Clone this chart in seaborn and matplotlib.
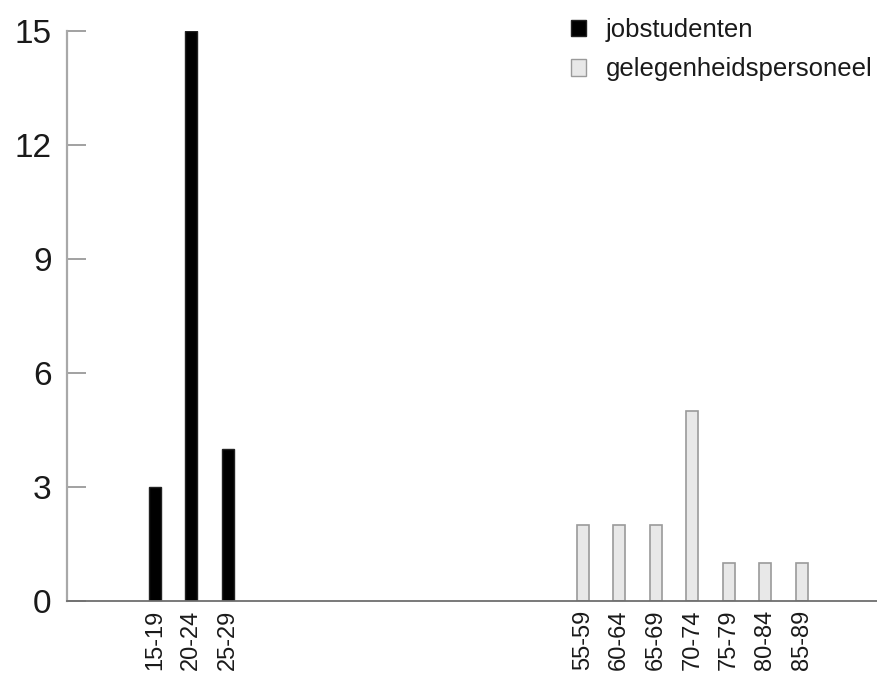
import numpy as np
import pandas as pd
import matplotlib
matplotlib.use("Agg")
import matplotlib.pyplot as plt
from matplotlib.patches import Patch
import seaborn as sns

# leeftijdsklassen en aantallen per groep
leeftijd_jobstudenten = ["15-19", "20-24", "25-29"]
aantal_jobstudenten = [3, 15, 4]

leeftijd_gelegenheid = ["55-59", "60-64", "65-69", "70-74", "75-79", "80-84", "85-89"]
aantal_gelegenheid = [2, 2, 2, 5, 1, 1, 1]

groepen = ["jobstudenten", "gelegenheidspersoneel"]
yticks = [0, 3, 6, 9, 12, 15]

sns.set_theme(style="white")
plt.rcParams["font.family"] = ["Liberation Sans", "DejaVu Sans"]
plt.rcParams["text.color"] = "#1a1a1a"
plt.rcParams["xtick.color"] = "#1a1a1a"
plt.rcParams["ytick.color"] = "#1a1a1a"

# posities op de x-as: tweede groep komt verder naar rechts
gap = 9.7
pos_job = np.arange(len(leeftijd_jobstudenten))
pos_gel = pos_job[-1] + gap + np.arange(len(leeftijd_gelegenheid))

df_job = pd.DataFrame({"pos": pos_job, "aantal": aantal_jobstudenten, "label": leeftijd_jobstudenten})
df_gel = pd.DataFrame({"pos": pos_gel, "aantal": aantal_gelegenheid, "label": leeftijd_gelegenheid})

fig = plt.figure(figsize=(8.77, 6.82), dpi=100)
ax = fig.add_axes([67 / 877, 81 / 682, 1 - 67 / 877, 570 / 682])

sns.barplot(data=df_job, x="pos", y="aantal", native_scale=True, width=0.33,
            color="black", edgecolor="#222222", linewidth=1, saturation=1, ax=ax)
sns.barplot(data=df_gel, x="pos", y="aantal", native_scale=True, width=0.33,
            color="#e8e8e8", edgecolor="#9a9a9a", linewidth=1.2, saturation=1, ax=ax)

ax.set_xlim(-2.4, 19.75)
ax.set_ylim(0, 15)
ax.set_yticks(yticks)
ax.set_xticks(list(pos_job) + list(pos_gel))
ax.set_xticklabels(leeftijd_jobstudenten + leeftijd_gelegenheid, rotation=90, fontsize=17)
ax.tick_params(axis="y", left=True, direction="in", length=14, width=1.3,
               color="#9a9a9a", labelcolor="#1a1a1a", labelsize=24, pad=11)
ax.tick_params(axis="x", bottom=False, length=0, pad=6, labelcolor="#1a1a1a")
ax.set_xlabel("")
ax.set_ylabel("")

for side in ["top", "right"]:
    ax.spines[side].set_visible(False)
ax.spines["left"].set_color("#a8a8a8")
ax.spines["left"].set_linewidth(1.6)
ax.spines["bottom"].set_color("#6e6e6e")
ax.spines["bottom"].set_linewidth(1.3)

handles = [
    Patch(facecolor="black", edgecolor="#222222", label=groepen[0]),
    Patch(facecolor="#e8e8e8", edgecolor="#9a9a9a", label=groepen[1]),
]
fig.legend(handles=handles, loc="upper left", bbox_to_anchor=(571 / 877, 1 - 18 / 682),
           frameon=False, fontsize=18.5, handlelength=0.6, handleheight=0.6,
           handletextpad=0.75, labelspacing=0.6, borderpad=0, borderaxespad=0)

fig.savefig("out.png", dpi=100)
